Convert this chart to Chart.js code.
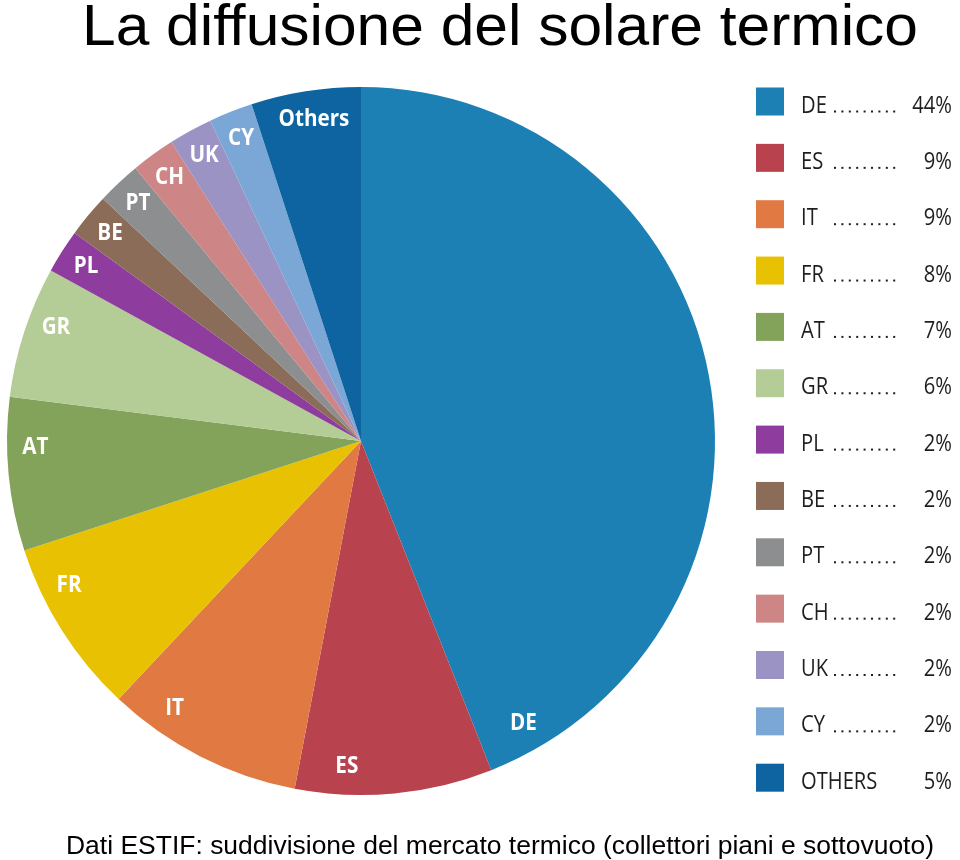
<!DOCTYPE html>
<html>
<head>
    <title>La diffusione del solare termico</title>
    <script src="https://cdn.jsdelivr.net/npm/chart.js@4/dist/chart.umd.min.js"></script>
    <style>
        body { margin: 0; background: #fff; }
    </style>
</head>
<body>
    <canvas id="myChart" width="960" height="860"></canvas>
</body>
<script>
    // data
    const countries = ['DE', 'ES', 'IT', 'FR', 'AT', 'GR', 'PL', 'BE', 'PT', 'CH', 'UK', 'CY', 'Others'];
    const shares = [44, 9, 9, 8, 7, 6, 2, 2, 2, 2, 2, 2, 5];
    const colors = ['#1d80b5', '#b8434f', '#e07942', '#e8c202', '#84a35a', '#b4cc95',
                    '#8f3c9f', '#8b6c58', '#8d8e90', '#cd8585', '#9b93c3', '#7aa7d6', '#0d64a0'];

    const titleText = 'La diffusione del solare termico';
    const captionText = 'Dati ESTIF: suddivisione del mercato termico (collettori piani e sottovuoto)';

    // draws a string squeezed to a target width
    function fitText(ctx, text, cx, y, width) {
        const w = ctx.measureText(text).width;
        ctx.save();
        ctx.translate(cx, y);
        ctx.scale(width / w, 1);
        ctx.textAlign = 'center';
        ctx.fillText(text, 0, 0);
        ctx.restore();
    }

    // white names inside the slices
    const sliceLabels = {
        id: 'sliceLabels',
        afterDatasetsDraw(chart) {
            const ctx = chart.ctx;
            const arcs = chart.getDatasetMeta(0).data;
            ctx.save();
            ctx.font = 'bold 24px "Open Sans"';
            ctx.fillStyle = '#fff';
            ctx.textBaseline = 'middle';
            arcs.forEach((arc, i) => {
                const mid = (arc.startAngle + arc.endAngle) / 2;
                const a = Math.max(mid, arc.endAngle - 8.3 * Math.PI / 180);
                const r = arc.outerRadius * 0.92;
                const x = arc.x + Math.cos(a) * r;
                const y = arc.y + Math.sin(a) * r;
                ctx.save();
                ctx.translate(x, y);
                ctx.scale(0.86, 1);
                ctx.textAlign = 'center';
                ctx.fillText(countries[i], 0, 0);
                ctx.restore();
            });
            ctx.restore();
        }
    };

    // title, caption and the dotted legend on the right
    const decorations = {
        id: 'decorations',
        afterDraw(chart) {
            const ctx = chart.ctx;
            ctx.save();
            ctx.fillStyle = '#000';
            ctx.textBaseline = 'alphabetic';
            ctx.font = '58px "Liberation Sans"';
            fitText(ctx, titleText, 500, 45, 836);
            ctx.font = '25px "Liberation Sans"';
            fitText(ctx, captionText, 500, 854, 868);

            const rowH = 56.35;
            countries.forEach((c, i) => {
                const cy = 101.5 + i * rowH;
                ctx.fillStyle = colors[i];
                ctx.fillRect(756, cy - 14, 28, 28);
                ctx.fillStyle = '#1e1e1e';
                ctx.font = '24px "Open Sans"';
                ctx.save();
                ctx.translate(801, cy + 11);
                ctx.scale(0.84, 1);
                ctx.textAlign = 'left';
                ctx.fillText(c.toUpperCase(), 0, 0);
                ctx.restore();
                if (c !== 'Others') {
                    for (let d = 0; d < 9; d++) {
                        ctx.fillRect(834 + d * 7.4, cy + 9, 2, 2);
                    }
                }
                ctx.save();
                ctx.translate(952, cy + 11);
                ctx.scale(0.84, 1);
                ctx.textAlign = 'right';
                ctx.fillText(shares[i] + '%', 0, 0);
                ctx.restore();
            });
            ctx.restore();
        }
    };

    const canvas = document.getElementById('myChart');

    const myChart = new Chart(canvas, {
        type: 'pie',
        data: {
            labels: countries,
            datasets: [{
                data: shares,
                backgroundColor: colors,
                borderWidth: 0
            }]
        },
        options: {
            responsive: false,
            animation: false,
            layout: {
                padding: { left: 7, right: 245, top: 87, bottom: 65 }
            },
            plugins: {
                legend: { display: false },
                tooltip: { enabled: false }
            }
        },
        plugins: [sliceLabels, decorations]
    });
</script>
</html>
